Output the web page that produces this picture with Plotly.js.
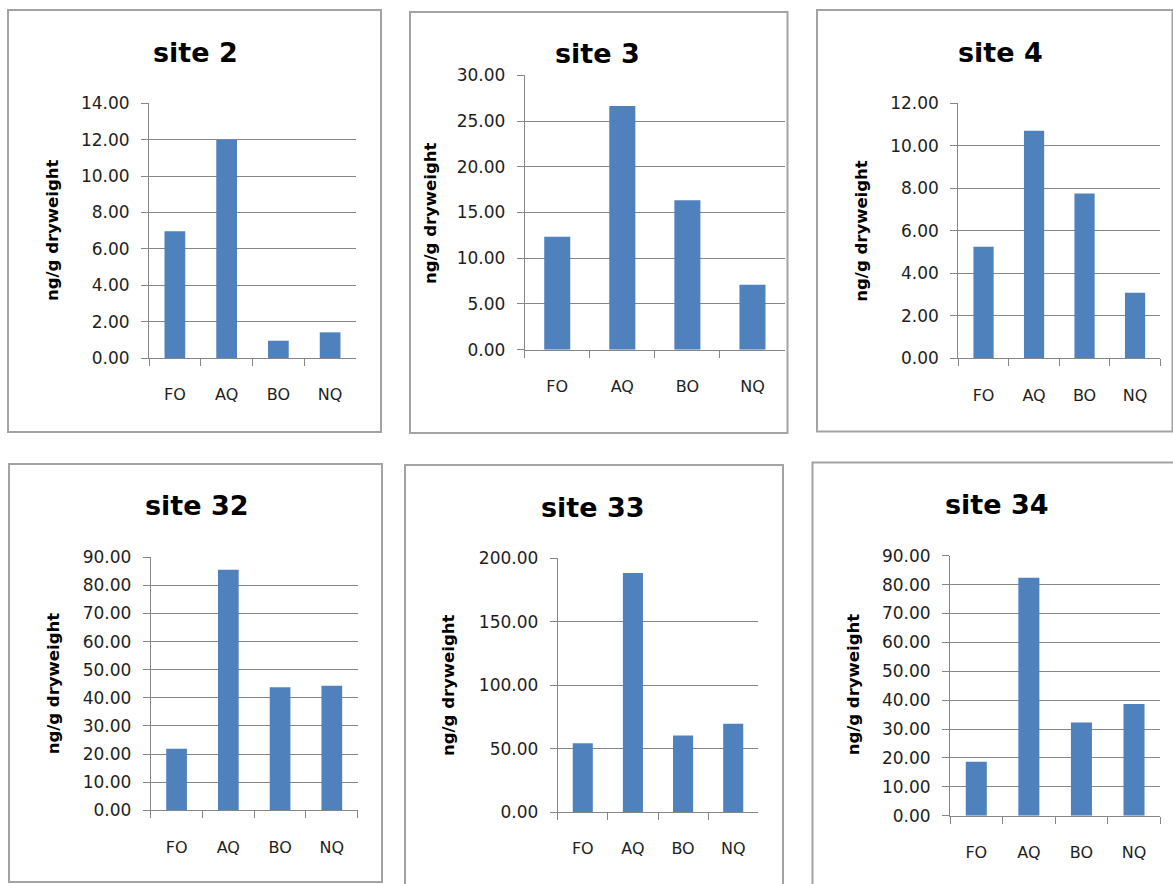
<!DOCTYPE html>
<html>
<head>
<meta charset="utf-8">
<script src="https://cdn.plot.ly/plotly-3.0.1.min.js"></script>
<style>
  html, body { margin: 0; padding: 0; background: #ffffff; }
  #chart { width: 1173px; height: 884px; }
</style>
</head>
<body>
<div id="chart"></div>
<script>
// Concentrations per compound group at each sampling site (ng/g dry weight)
const categories = ['FO', 'AQ', 'BO', 'NQ'];
const siteNames = ['site 2', 'site 3', 'site 4', 'site 32', 'site 33', 'site 34'];
const site2 = [6.97, 11.98, 0.95, 1.41];
const site3 = [12.35, 26.64, 16.33, 7.11];
const site4 = [5.25, 10.71, 7.76, 3.09];
const site32 = [21.9, 85.6, 43.75, 44.3];
const site33 = [54.1, 188.4, 60.4, 69.6];
const site34 = [18.7, 82.4, 32.3, 38.7];
const yMax = [14, 30, 12, 90, 200, 90];
const yStep = [2, 5, 2, 10, 50, 10];
const yTitle = 'ng/g dryweight';

const siteValues = [site2, site3, site4, site32, site33, site34];

const W = 1173, H = 884;
const BAR = '#4f81bd';
const GRID = '#868686';
const TXT = '#1e1e1e';

// Pixel geometry of each small chart: plot box, frame, title and axis-title anchors
const panels = [
  { plot: [149, 356, 103.3, 358.0], frame: [8, 10, 381, 432], title: [195, 52], ytitle: [53, 231] },
  { plot: [524.7, 785, 75.3, 349.7], frame: [410, 12, 787.5, 433], title: [597.7, 53], ytitle: [430, 214] },
  { plot: [958.3, 1160.3, 103.3, 358.3], frame: [817, 10, 1172.5, 431.5], title: [1000, 52], ytitle: [861.7, 231] },
  { plot: [150.7, 357.7, 557.3, 810.3], frame: [9, 464, 382, 882], title: [196.7, 506], ytitle: [53.3, 684] },
  { plot: [557.7, 758.3, 558.3, 812.0], frame: [405, 465, 783, 890], title: [593.3, 507.5], ytitle: [448.3, 685.7] },
  { plot: [950, 1160.3, 555.7, 815.7], frame: [812.5, 462.5, 1185, 890], title: [996.7, 504], ytitle: [853.3, 685] }
];

const px = x => x / W;
const py = y => 1 - y / H;

const data = [];
const layout = {
  width: W,
  height: H,
  margin: { l: 0, r: 0, t: 0, b: 0, pad: 0 },
  paper_bgcolor: '#ffffff',
  plot_bgcolor: 'rgba(0,0,0,0)',
  showlegend: false,
  bargap: 0.6,
  font: { family: 'DejaVu Sans, sans-serif', size: 17, color: TXT },
  shapes: [],
  annotations: []
};

panels.forEach((p, i) => {
  const n = i === 0 ? '' : String(i + 1);
  data.push({
    type: 'bar',
    x: categories,
    y: siteValues[i],
    xaxis: 'x' + n,
    yaxis: 'y' + n,
    marker: { color: BAR, line: { width: 0 } },
    hoverinfo: 'none'
  });

  layout['xaxis' + n] = {
    domain: [px(p.plot[0]), px(p.plot[1])],
    anchor: 'y' + n,
    type: 'category',
    range: [-0.5, 3.5],
    showline: true,
    linecolor: GRID,
    linewidth: 1,
    ticks: 'outside',
    tickson: 'boundaries',
    ticklen: 7,
    tickcolor: GRID,
    tickwidth: 1,
    ticklabelstandoff: 22,
    showgrid: false,
    zeroline: false,
    fixedrange: true,
    tickfont: { family: 'DejaVu Sans, sans-serif', size: 16, color: TXT }
  };

  layout['yaxis' + n] = {
    domain: [py(p.plot[3]), py(p.plot[2])],
    anchor: 'x' + n,
    range: [0, yMax[i]],
    tick0: 0,
    dtick: yStep[i],
    tickformat: '.2f',
    showline: true,
    linecolor: GRID,
    linewidth: 1,
    ticks: 'outside',
    ticklen: 7,
    tickcolor: GRID,
    tickwidth: 1,
    ticklabelstandoff: 8,
    showgrid: true,
    gridcolor: GRID,
    gridwidth: 1,
    zeroline: false,
    fixedrange: true,
    tickfont: { family: 'DejaVu Sans, sans-serif', size: 17, color: TXT }
  };

  // Frame around each small chart
  layout.shapes.push({
    type: 'rect', xref: 'paper', yref: 'paper',
    x0: px(p.frame[0]), x1: px(p.frame[2]),
    y0: py(p.frame[3]), y1: py(p.frame[1]),
    line: { color: '#a3a3a3', width: 2 },
    fillcolor: 'rgba(0,0,0,0)',
    layer: 'below'
  });

  // Chart title
  layout.annotations.push({
    xref: 'paper', yref: 'paper',
    x: px(p.title[0]), y: py(p.title[1]),
    xanchor: 'center', yanchor: 'middle',
    showarrow: false,
    text: siteNames[i],
    font: { family: 'DejaVu Sans, sans-serif', size: 27, color: '#000000', weight: 'bold' }
  });

  // Vertical axis title
  layout.annotations.push({
    xref: 'paper', yref: 'paper',
    x: px(p.ytitle[0]), y: py(p.ytitle[1]),
    xanchor: 'center', yanchor: 'middle',
    showarrow: false,
    textangle: -90,
    text: yTitle,
    font: { family: 'DejaVu Sans, sans-serif', size: 16.5, color: '#000000', weight: 'bold' }
  });
});

Plotly.newPlot('chart', data, layout, { displayModeBar: false, staticPlot: true });
</script>
</body>
</html>
